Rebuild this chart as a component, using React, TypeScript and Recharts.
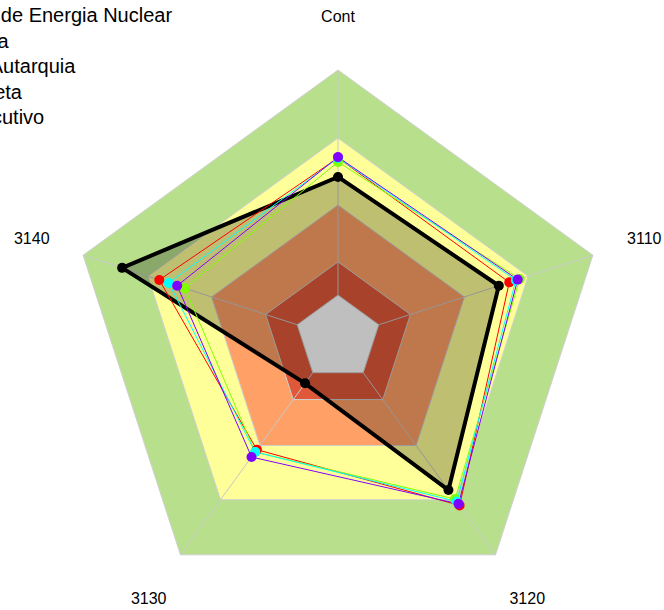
import { PolarAngleAxis, PolarGrid, PolarRadiusAxis, Radar, RadarChart } from "recharts";

const axes = ["Cont", "3110", "3120", "3130", "3140"];

// background rings (share of the outer radius, in %)
const ringGreen = [100, 100, 100, 100, 100];
const ringYellow = [74.6, 74.6, 74.6, 74.6, 74.6];
const ringOrange = [49.6, 49.6, 49.6, 49.6, 49.6];
const ringRed = [28.4, 28.4, 28.4, 28.4, 28.4];
const ringCore = [16, 16, 16, 16, 16];

const cnen = [60.1, 63.1, 70.1, 20.9, 84.7];
const ministerio = [67.2, 67.2, 77.2, 51.5, 70.1];
const autarquia = [67.2, 69.8, 75.4, 52.6, 66.4];
const indireta = [65.7, 71.3, 74.3, 52.6, 60.1];
const executivo = [67.5, 70.5, 76.5, 54.9, 63.1];

const seriesNames = [
  "Comissão Nacional de Energia Nuclear",
  "Ministério da Ciência",
  "Natureza Jurídica: Autarquia",
  "Administração Indireta",
  "Total do Poder Executivo",
];
const seriesColors = ["#000000", "#ff0000", "#00ffff", "#80ff00", "#8000ff"];

const CX = 338;
const CY = 338;
const OUTER = 268;
const LABEL_R = 322;

const data = axes.map((axis, i) => ({
  axis,
  ringGreen: ringGreen[i],
  ringYellow: ringYellow[i],
  ringOrange: ringOrange[i],
  ringRed: ringRed[i],
  ringCore: ringCore[i],
  cnen: cnen[i],
  ministerio: ministerio[i],
  autarquia: autarquia[i],
  indireta: indireta[i],
  executivo: executivo[i],
}));

// the white core sits above the spokes, the coloured rings below them
const rings = [
  { key: "ringGreen", fill: "#b8e08c", z: 90 },
  { key: "ringYellow", fill: "#ffff99", z: 90 },
  { key: "ringOrange", fill: "#ffa066", z: 90 },
  { key: "ringRed", fill: "#e0583a", z: 90 },
  { key: "ringCore", fill: "#ffffff", z: 96 },
];

// thin series, drawn over the black one
const thin = [
  { key: "ministerio", name: seriesNames[1], color: seriesColors[1] },
  { key: "indireta", name: seriesNames[3], color: seriesColors[3] },
  { key: "autarquia", name: seriesNames[2], color: seriesColors[2] },
  { key: "executivo", name: seriesNames[4], color: seriesColors[4] },
];

function AxisTick({ payload }: { payload?: { value: string; coordinate: number } }) {
  if (!payload) return null;
  const rad = (-payload.coordinate * Math.PI) / 180;
  return (
    <text
      x={CX + LABEL_R * Math.cos(rad)}
      y={CY + LABEL_R * Math.sin(rad)}
      textAnchor="middle"
      dominantBaseline="central"
      fontSize={16}
      fill="#000"
      fontFamily="'Liberation Sans', Arial, sans-serif"
    >
      {payload.value}
    </text>
  );
}

export default function App() {
  return (
    <div style={{ position: "absolute", left: 0, top: 0, width: 664, height: 610, overflow: "hidden", background: "#fff" }}>
      <RadarChart width={664} height={610} data={data} cx={CX} cy={CY} outerRadius={OUTER} margin={{ top: 0, right: 0, bottom: 0, left: 0 }}>
        <PolarRadiusAxis domain={[0, 100]} tick={false} axisLine={false} />
        <PolarAngleAxis dataKey="axis" tick={<AxisTick />} axisLine={false} tickLine={false} />
        {rings.map((r) => (
          <Radar
            key={r.key}
            dataKey={r.key}
            fill={r.fill}
            fillOpacity={1}
            stroke="#cfcfcf"
            strokeWidth={1}
            dot={false}
            legendType="none"
            zIndex={r.z}
            isAnimationActive={false}
          />
        ))}
        <PolarGrid gridType="polygon" polarRadius={[]} stroke="#c8c8c8" strokeWidth={1} zIndex={95} />
        <Radar
          dataKey="cnen"
          name={seriesNames[0]}
          stroke="#000"
          strokeWidth={4}
          fill="#000"
          fillOpacity={0.25}
          dot={{ r: 5, fill: "#000", stroke: "none", fillOpacity: 1 }}
          isAnimationActive={false}
        />
        {thin.map((s) => (
          <Radar
            key={s.key}
            dataKey={s.key}
            name={s.name}
            stroke={s.color}
            strokeWidth={1}
            fill="none"
            fillOpacity={0}
            dot={{ r: 5, fill: s.color, stroke: "none", fillOpacity: 1 }}
            isAnimationActive={false}
          />
        ))}
      </RadarChart>
      <div
        style={{
          position: "absolute",
          left: -177,
          top: 3,
          fontFamily: "'Liberation Sans', Arial, sans-serif",
          fontSize: 20,
          lineHeight: "25.6px",
          color: "#000",
          whiteSpace: "nowrap",
        }}
      >
        {seriesNames.map((name) => (
          <div key={name}>{name}</div>
        ))}
      </div>
    </div>
  );
}
